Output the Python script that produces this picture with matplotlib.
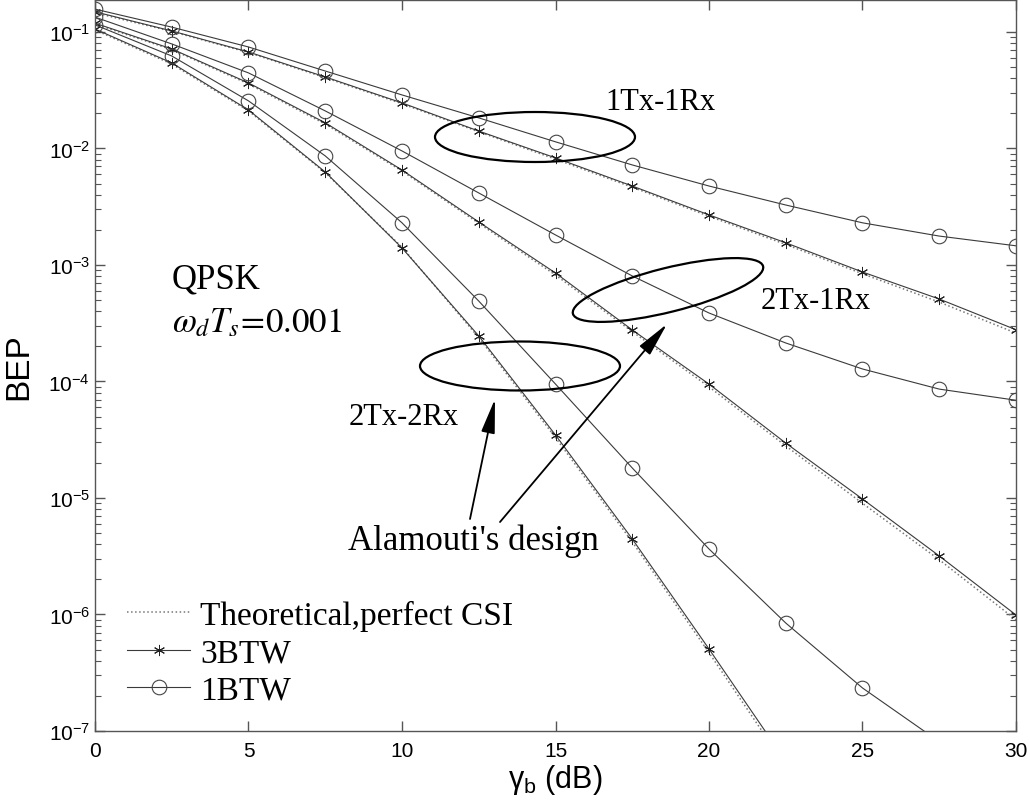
import matplotlib
matplotlib.use("Agg")
import matplotlib.pyplot as plt
from matplotlib.patches import Ellipse
from matplotlib.transforms import IdentityTransform
from matplotlib.ticker import NullFormatter, FixedLocator

# SNR in dB, BEP
snr = [0, 2.5, 5, 7.5, 10, 12.5, 15, 17.5, 20, 22.5, 25, 27.5, 30]

# 1Tx-1Rx
th_11 = [0.146, 0.101, 0.0665, 0.0405, 0.0242, 0.0139, 0.0081, 0.00465,
         0.00262, 0.00150, 0.00084, 0.00048, 0.00026]
btw3_11 = [0.149, 0.102, 0.0673, 0.0411, 0.0246, 0.0141, 0.0083, 0.00476,
           0.00269, 0.00155, 0.00087, 0.00051, 0.000278]
btw1_11 = [0.157, 0.110, 0.0743, 0.0462, 0.0288, 0.0183, 0.0114, 0.00722,
           0.00476, 0.00327, 0.00230, 0.00177, 0.00146]

# 2Tx-1Rx
th_21 = [0.117, 0.0705, 0.0358, 0.0162, 0.0064, 0.00228, 0.00082, 0.000268,
         9.0e-5, 2.8e-5, 9.0e-6, 2.95e-6, 9.0e-7]
btw3_21 = [0.119, 0.0715, 0.0365, 0.0166, 0.00653, 0.00234, 0.000853, 0.000277,
           9.5e-5, 2.96e-5, 9.8e-6, 3.18e-6, 9.9e-7]
btw1_21 = [0.134, 0.0789, 0.0445, 0.0210, 0.00952, 0.00415, 0.00181, 0.000805,
           0.000387, 0.000214, 0.000128, 8.6e-5, 6.9e-5]

# 2Tx-2Rx
th_22 = [0.104, 0.0530, 0.0210, 0.0062, 0.00142, 0.000238, 3.3e-5, 4.2e-6,
         4.7e-7, 5.0e-8]
btw3_22 = [0.106, 0.0542, 0.0214, 0.00628, 0.00140, 0.000246, 3.47e-5, 4.45e-6,
           5.06e-7, 5.5e-8]
btw1_22 = [0.115, 0.0622, 0.0256, 0.00863, 0.00230, 0.00049, 9.5e-5, 1.81e-5,
           3.65e-6, 8.45e-7, 2.34e-7, 8.1e-8]

x_ticks = [0, 5, 10, 15, 20, 25, 30]
y_decades = [1e-7, 1e-6, 1e-5, 1e-4, 1e-3, 1e-2, 1e-1]

plt.rcParams['font.family'] = ['Liberation Sans', 'DejaVu Sans']
plt.rcParams['mathtext.fontset'] = 'stix'

W, H = 1030, 812
fig = plt.figure(figsize=(W / 100, H / 100), dpi=100)
ax = fig.add_axes([95 / W, 80 / H, 921 / W, 731 / H])

line_c = '#3a3a3a'
asterisk = (6, 2, 0)

groups = [(th_11, btw3_11, btw1_11), (th_21, btw3_21, btw1_21), (th_22, btw3_22, btw1_22)]
for i, (th, b3, b1) in enumerate(groups):
    ax.plot(snr[:len(th)], th, ls=':', color='#777777', lw=1.1,
            label='Theoretical,perfect CSI' if i == 0 else None)
    ax.plot(snr[:len(b3)], b3, '-', color=line_c, lw=0.8, marker=asterisk,
            ms=8, mec='#222222', mew=0.7, label='3BTW' if i == 0 else None)
    ax.plot(snr[:len(b1)], b1, '-', color=line_c, lw=0.8, marker='o', ms=10.5,
            mfc='none', mec='#444444', mew=0.8, label='1BTW' if i == 0 else None)

ax.set_yscale('log')
ax.set_xlim(0, 30)
ax.set_ylim(1e-7, 0.188)
ax.xaxis.set_major_locator(FixedLocator(x_ticks))
ax.yaxis.set_major_locator(FixedLocator(y_decades))
minors = [m * d for d in y_decades for m in range(2, 10) if m * d < 0.188]
ax.yaxis.set_minor_locator(FixedLocator(minors))
ax.yaxis.set_minor_formatter(NullFormatter())

for sp in ax.spines.values():
    sp.set_color('#555555')
    sp.set_linewidth(1.0)
ax.tick_params(which='both', direction='in', top=True, right=True,
               colors='#555555', labelcolor='black', labelsize=15)
ax.tick_params(which='major', length=7, width=1)
ax.tick_params(which='minor', length=4, width=0.8)
ax.tick_params(axis='x', pad=7)

ax.set_ylabel('BEP', fontsize=24, labelpad=10)
ax.set_xlabel(r'$\mathregular{\gamma_b}$ (dB)', fontsize=22, labelpad=2)

leg = ax.legend(loc='lower left', bbox_to_anchor=(32 / 921, 0.035), frameon=False,
                prop={'family': 'Liberation Serif', 'size': 24}, handlelength=1.9,
                handletextpad=0.3, labelspacing=0.2, borderpad=0, borderaxespad=0,
                numpoints=1)

# annotation shapes in figure pixels
pix = IdentityTransform()
for cx, cy, w, h, ang in [(535, 138, 200, 50, 0), (668, 291, 196, 44, 14), (520, 367, 200, 49, 0)]:
    fig.patches.append(Ellipse((cx, H - cy), w, h, angle=ang, fill=False,
                               ec='black', lw=1.6, transform=pix, figure=fig))

serif = 'Liberation Serif'
fig.text(660 / W, 1 - 103 / H, '1Tx-1Rx', family=serif, fontsize=22, ha='center', va='center')
fig.text(816 / W, 1 - 302 / H, '2Tx-1Rx', family=serif, fontsize=22, ha='center', va='center')
fig.text(404 / W, 1 - 418 / H, '2Tx-2Rx', family=serif, fontsize=22, ha='center', va='center')
fig.text(348 / W, 1 - 550 / H, "Alamouti's design", family=serif, fontsize=25,
         ha='left', va='baseline')
fig.text(172 / W, 1 - 288 / H, 'QPSK', family=serif, fontsize=25, ha='left', va='baseline')
fig.text(172 / W, 1 - 332 / H, r'$\omega_d T_s\!=\!0.001$', fontsize=25, ha='left',
         va='baseline')

for tail, head in [((470, 520), (495, 400)), ((500, 523), (667, 325))]:
    ax.annotate('', xy=(head[0], H - head[1]), xycoords='figure pixels',
                xytext=(tail[0], H - tail[1]), textcoords='figure pixels',
                arrowprops=dict(arrowstyle='-|>,head_length=1.5,head_width=0.3',
                                color='black', lw=1.3, mutation_scale=14,
                                shrinkA=0, shrinkB=0))

fig.savefig('out.png', dpi=100)
